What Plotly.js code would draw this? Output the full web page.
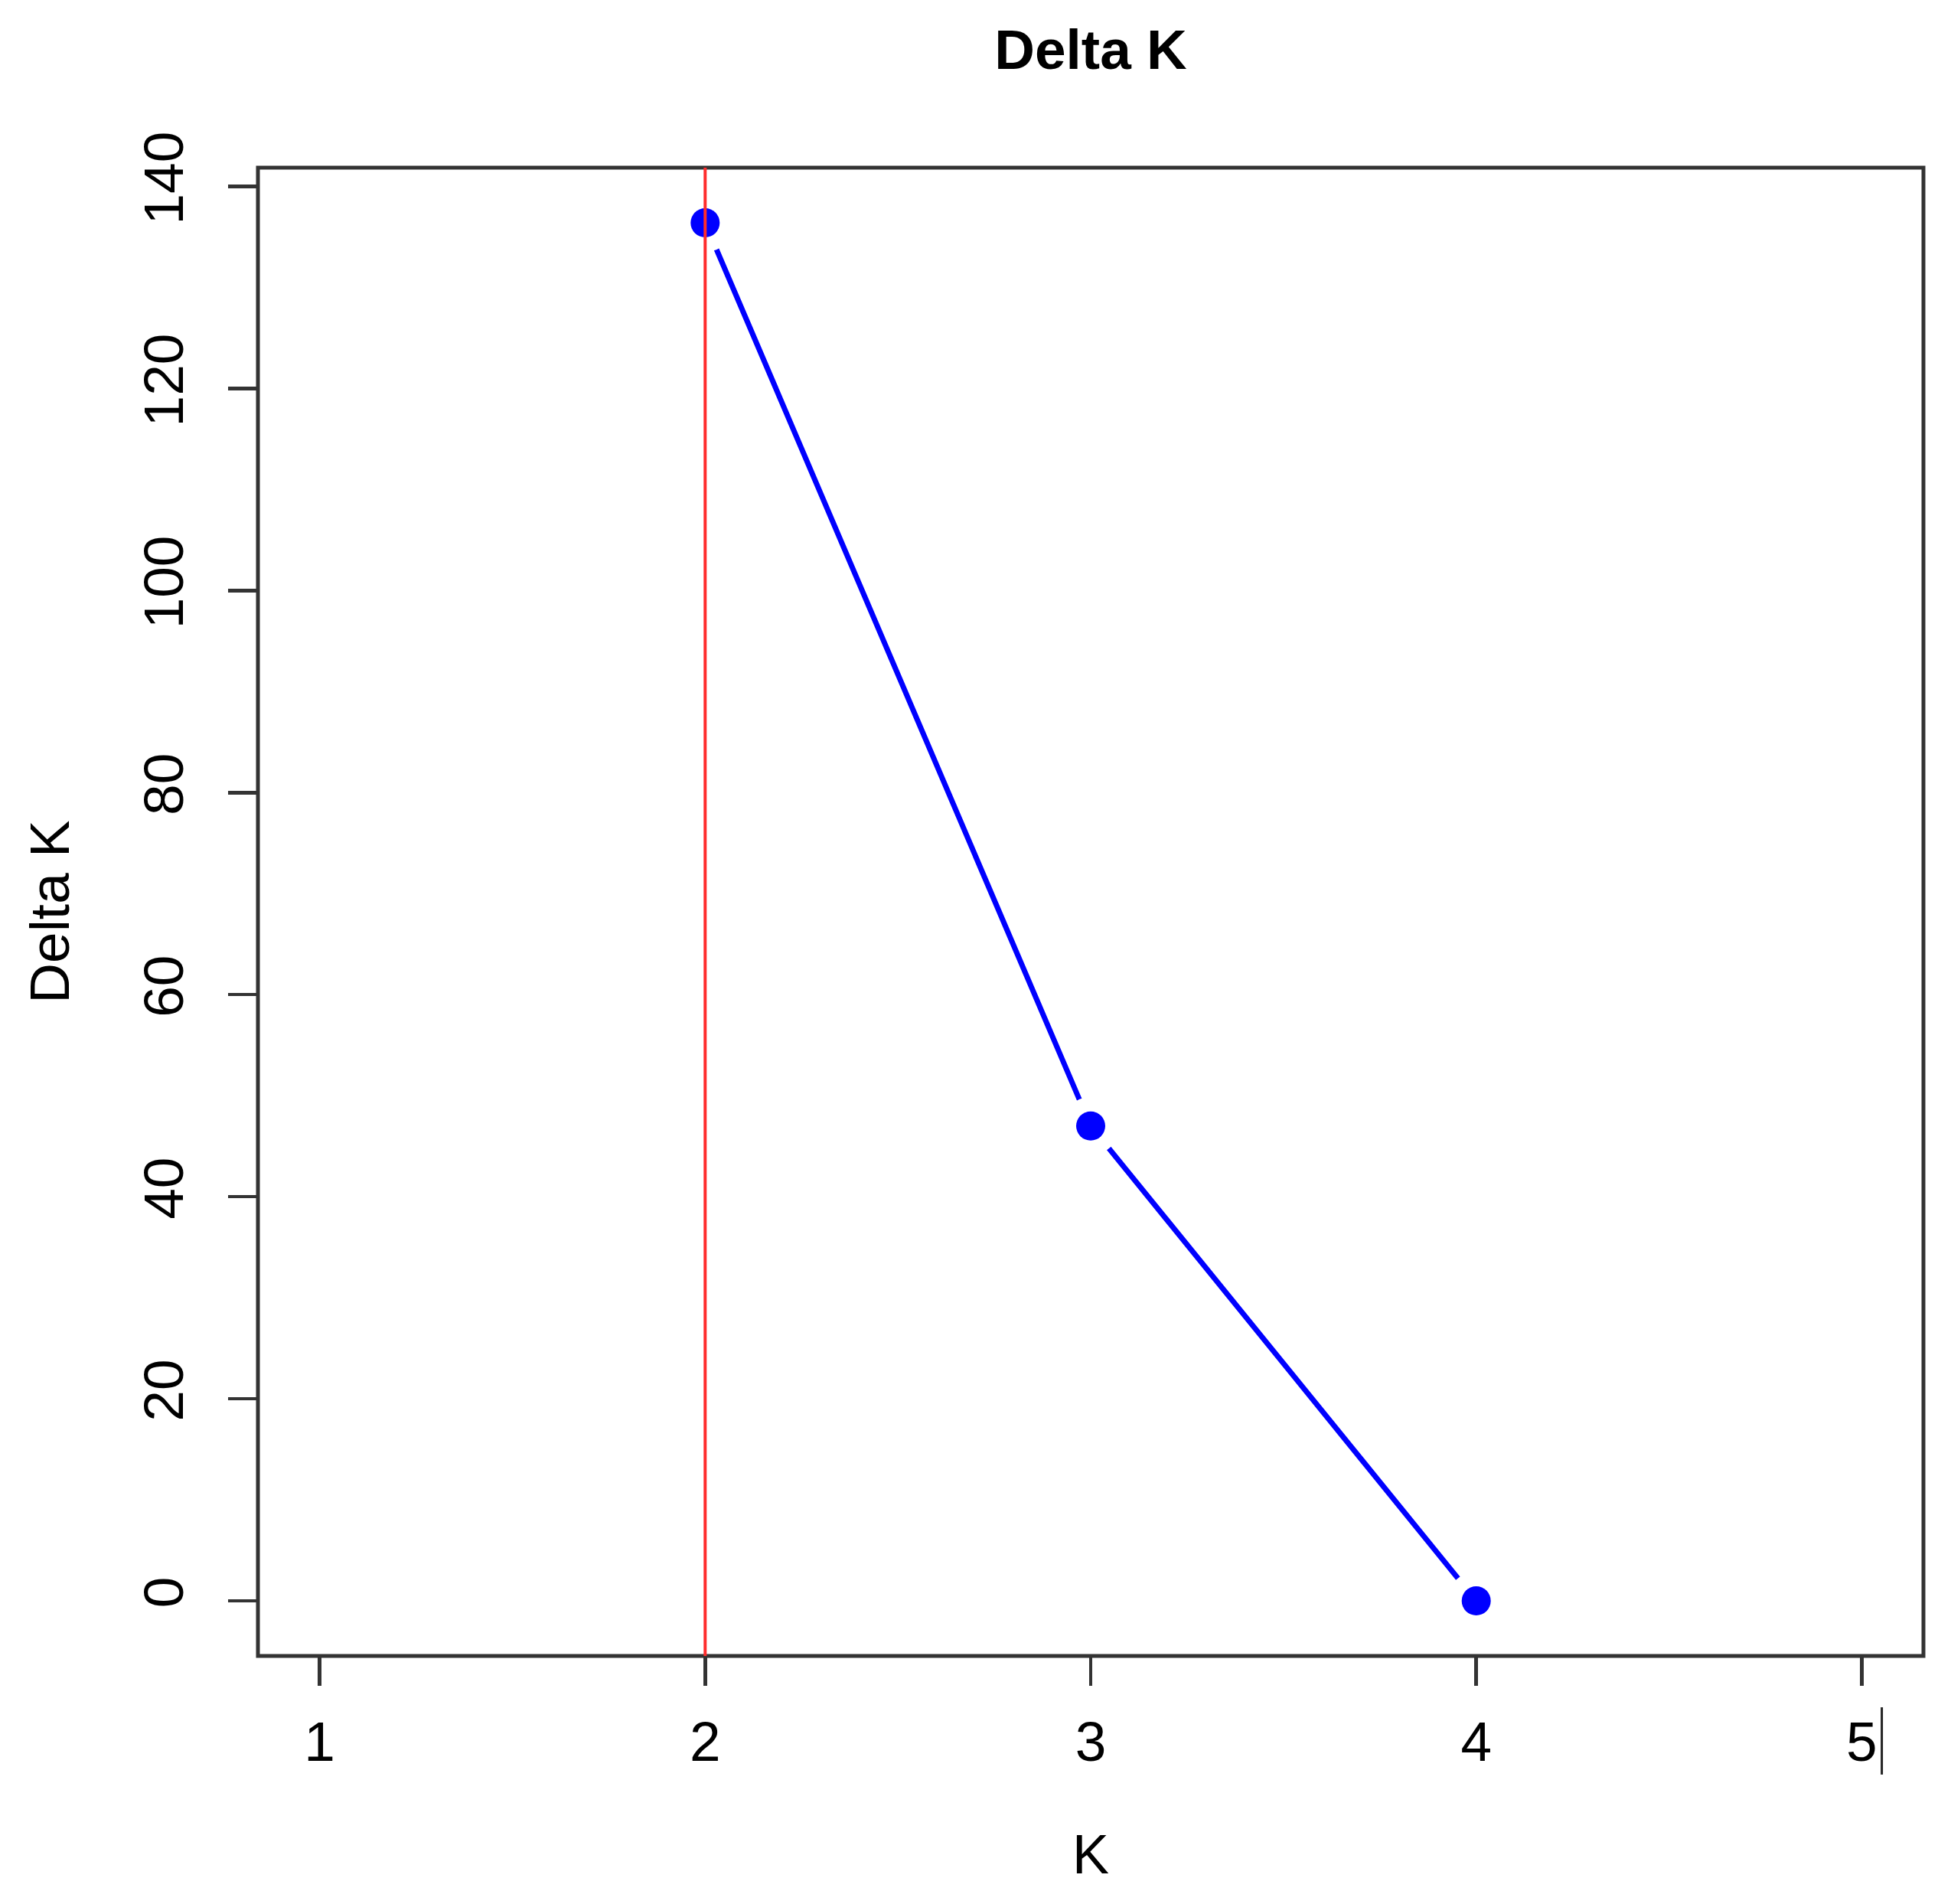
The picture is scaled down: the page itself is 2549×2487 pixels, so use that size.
<!DOCTYPE html>
<html>
<head>
<meta charset="utf-8">
<script src="https://cdn.plot.ly/plotly-3.0.1.min.js"></script>
<style>
  html, body { margin: 0; padding: 0; background: #fff; }
  #chart { width: 2549px; height: 2487px; }
</style>
</head>
<body>
<div id="chart"></div>
<script>
/* Delta K plot (Evanno-style), R base graphics look */

const K_VALUES = [2, 3, 4];
const DELTA_K = [136.4, 47.0, 0];
const BEST_K = 2;
const X_TICKS = [1, 2, 3, 4, 5];
const Y_TICKS = [0, 20, 40, 60, 80, 100, 120, 140];

const FONT = 'Liberation Sans, Arial, sans-serif';
const AXIS_COLOR = '#333333';

/* ─── Traces: R type="b" → line, white gap ring, point ─── */
const traces = [
  {
    x: K_VALUES, y: DELTA_K,
    mode: 'lines',
    line: { color: '#0000FF', width: 7 },
    hoverinfo: 'skip',
  },
  {
    x: K_VALUES, y: DELTA_K,
    mode: 'markers',
    marker: { color: '#FFFFFF', size: 76 },
    hoverinfo: 'skip',
  },
  {
    x: K_VALUES, y: DELTA_K,
    mode: 'markers',
    marker: { color: '#0000FF', size: 38 },
  },
];

const AXIS_STYLE = {
  showgrid: false,
  zeroline: false,
  showline: false,
  ticks: 'outside',
  ticklen: 38,
  tickwidth: 4.5,
  tickcolor: AXIS_COLOR,
  tickfont: { family: FONT, size: 73, color: '#000' },
};

const layout = {
  width: 2549,
  height: 2487,
  paper_bgcolor: '#fff',
  plot_bgcolor: '#fff',
  showlegend: false,
  margin: { l: 337, r: 36, t: 219, b: 324 },
  title: {
    text: 'Delta K',
    font: { family: FONT, size: 73, color: '#000', weight: 'bold' },
    x: 0.5, xref: 'paper', xanchor: 'center',
    y: 1 - 90 / 2487, yref: 'container', yanchor: 'bottom',
  },
  xaxis: {
    ...AXIS_STYLE,
    range: [0.84, 5.16],
    tickvals: X_TICKS,
    ticktext: X_TICKS.map(String),
    ticklabelstandoff: 10,
    title: { text: 'K', font: { family: FONT, size: 72, color: '#000' }, standoff: 82 },
  },
  yaxis: {
    ...AXIS_STYLE,
    range: [-5.46, 141.86],
    tickvals: Y_TICKS,
    ticktext: Y_TICKS.map(String),
    tickangle: -90,
    ticklabelstandoff: 30,
    title: { text: 'Delta K', font: { family: FONT, size: 73, color: '#000' }, standoff: 58 },
  },
  shapes: [
    // plot frame
    {
      type: 'rect', xref: 'paper', yref: 'paper', x0: 0, x1: 1, y0: 0, y1: 1,
      line: { color: AXIS_COLOR, width: 5 }, layer: 'above',
    },
    // abline(v = best K)
    {
      type: 'line', xref: 'x', yref: 'paper', x0: BEST_K, x1: BEST_K, y0: 0, y1: 1,
      line: { color: 'rgb(255,45,45)', width: 4 }, layer: 'above',
    },
    // stray cursor bar next to the "5" label
    {
      type: 'line', xref: 'x', yref: 'paper', x0: 5.052, x1: 5.052, y0: -0.0345, y1: -0.0797,
      line: { color: '#222', width: 3 }, layer: 'above',
    },
  ],
};

Plotly.newPlot('chart', traces, layout, { displayModeBar: false, staticPlot: true });
</script>
</body>
</html>
